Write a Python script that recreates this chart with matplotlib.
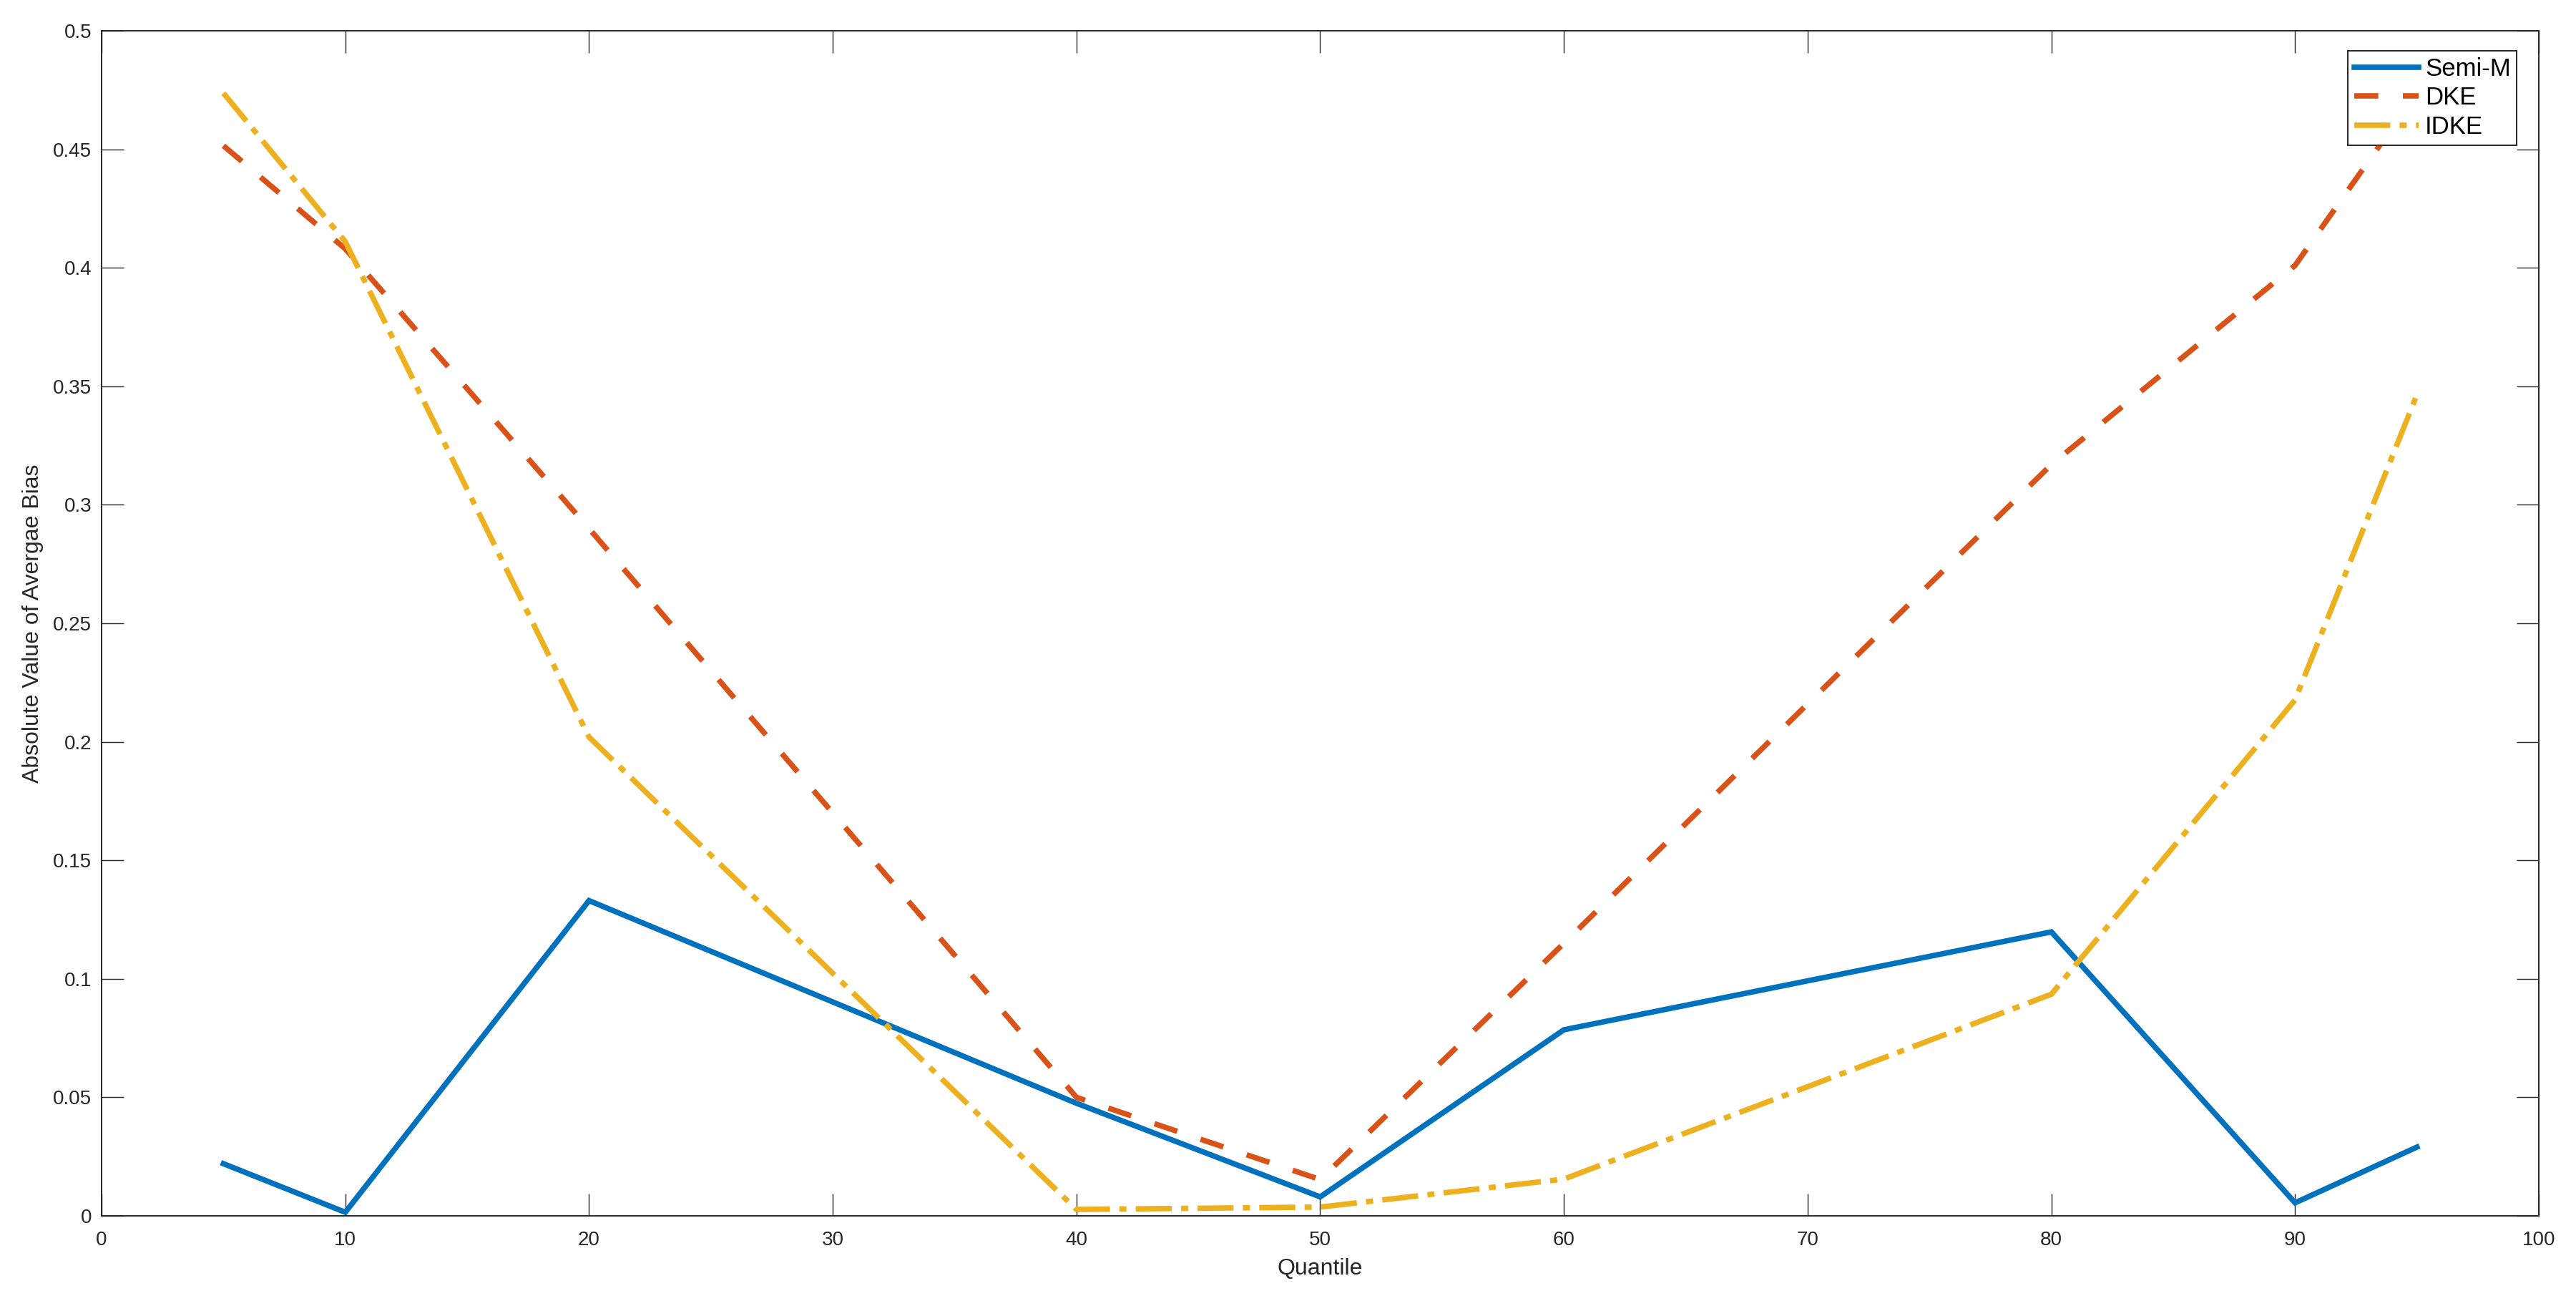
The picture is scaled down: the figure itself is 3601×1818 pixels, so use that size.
"""Absolute value of average bias per quantile: Semi-M vs DKE vs IDKE."""

import matplotlib

matplotlib.use("Agg")
import matplotlib.pyplot as plt
from matplotlib.ticker import FuncFormatter

# ---- data -----------------------------------------------------------------
quantiles = [5, 10, 20, 40, 50, 60, 80, 90, 95]
semi_m = [0.022, 0.0015, 0.133, 0.0475, 0.008, 0.0785, 0.1198, 0.0055, 0.029]
dke = [0.4515, 0.408, 0.290, 0.050, 0.0153, 0.115, 0.317, 0.401, 0.474]
idke = [0.4737, 0.411, 0.202, 0.0027, 0.0037, 0.0155, 0.0935, 0.2177, 0.3465]

series_names = ["Semi-M", "DKE", "IDKE"]
x_ticks = [0, 10, 20, 30, 40, 50, 60, 70, 80, 90, 100]
y_ticks = [0, 0.05, 0.1, 0.15, 0.2, 0.25, 0.3, 0.35, 0.4, 0.45, 0.5]

# MATLAB default colour order
c_blue = "#0072BD"
c_orange = "#D95319"
c_yellow = "#EDB120"
ink = "#262626"

plt.rcParams["font.family"] = ["Liberation Sans", "DejaVu Sans"]

fig = plt.figure(figsize=(36.01, 18.18), dpi=100)
ax = fig.add_axes([0.03943, 0.06546, 0.94613, 0.91089])

lw = 5.5
ax.plot(quantiles, semi_m, color=c_blue, lw=lw, label=series_names[0],
        solid_joinstyle="miter")
ax.plot(quantiles, dke, color=c_orange, lw=lw, label=series_names[1],
        linestyle=(0, (4.4, 4.5)), dash_capstyle="butt")
ax.plot(quantiles, idke, color=c_yellow, lw=lw, label=series_names[2],
        linestyle=(0, (6.6, 1.7, 1.3, 1.7)), dash_capstyle="butt")

ax.set_xlim(0, 100)
ax.set_ylim(0, 0.5)
ax.set_xticks(x_ticks)
ax.set_yticks(y_ticks)
ax.yaxis.set_major_formatter(FuncFormatter(lambda v, p: f"{v:g}"))

ax.tick_params(axis="both", which="major", direction="in", top=True, right=True,
               length=22, width=1.0, color=ink, labelcolor=ink, labelsize=20)
ax.tick_params(axis="x", pad=15)
ax.tick_params(axis="y", pad=10)
for sp in ax.spines.values():
    sp.set_linewidth(1.4)
    sp.set_color(ink)

ax.set_xlabel("Quantile", fontsize=23, color=ink, labelpad=9)
ax.set_ylabel("Absolute Value of Avergae Bias", fontsize=23, color=ink, labelpad=9)

leg = ax.legend(loc="upper right", bbox_to_anchor=(0.991, 0.983), borderaxespad=0,
                fontsize=25, frameon=True, fancybox=False, framealpha=1.0,
                edgecolor=ink, handlelength=2.6, handletextpad=0.25,
                labelspacing=0.22, borderpad=0.25)
leg.get_frame().set_linewidth(1.4)
for t in leg.get_texts():
    t.set_color("black")

fig.savefig("out.png", dpi=100)
plt.close(fig)
